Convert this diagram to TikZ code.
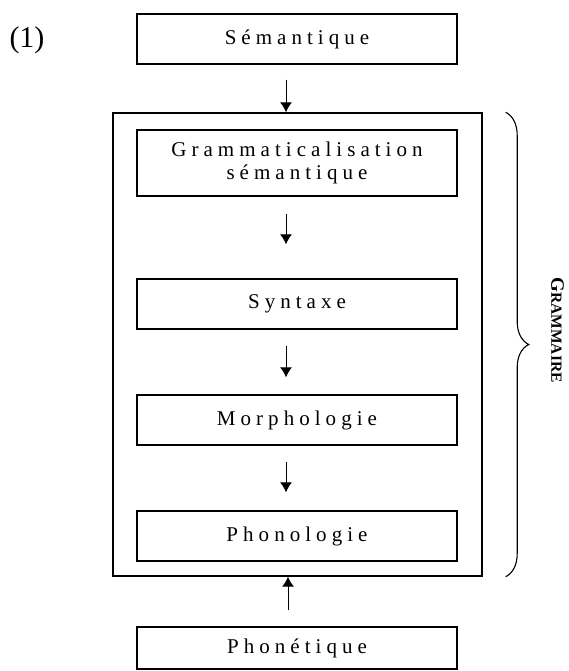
\documentclass[tikz,border=0pt]{standalone}
\usepackage{fontspec}
\setmainfont{Liberation Serif}
\newfontfamily\spaced[LetterSpace=24]{Liberation Serif}
\usepackage{tikz}
\usetikzlibrary{arrows.meta}
\usetikzlibrary{positioning}
\usetikzlibrary{decorations.pathreplacing}
\tikzset{
    module/.style={draw=black, line width=1.4pt, minimum width=320pt, minimum height=50pt,
        inner sep=0pt, align=center, font=\spaced\fontsize{21}{23}\selectfont},
    grammarbox/.style={draw=black, line width=1.4pt, inner sep=0pt},
    flow/.style={draw=black, line width=1pt, -{Latex[length=10pt,width=12pt]}},
    accolade/.style={decorate, draw=black, line width=1.1pt,
        decoration={brace,amplitude=23pt}},
}

\begin{document}
\begin{tikzpicture}[x=1pt, y=-1pt]
	\useasboundingbox (0,0) rectangle (568,671);
	\coordinate (down) at (286,0);
	\coordinate (up) at (288,0);
	\node[grammarbox, minimum width=369pt, minimum height=463pt] (grammaire) at (297.5,344.5) {};
	\node[module] (sem) at (297,39) {Sémantique};
	\node[module, minimum height=66pt] (gramsem) at (297,163) {Grammaticalisation\\sémantique};
	\node[module] (syntaxe) at (297,304) {Syntaxe};
	\node[module] (morpho) at (297,420) {Morphologie};
	\node[module] (phonol) at (297,536) {Phonologie};
	\node[module, minimum height=42pt] (phonet) at (297,648) {Phonétique};
	\node (num) at (27,40) {\fontsize{30}{30}\selectfont (1)};
	\draw[flow, shorten <=15pt] (sem.south -| down) -- (grammaire.north -| down);
	\draw[flow, shorten <=17pt, shorten >=34pt] (gramsem.south -| down) -- (syntaxe.north -| down);
	\draw[flow, shorten <=16pt, shorten >=17pt] (syntaxe.south -| down) -- (morpho.north -| down);
	\draw[flow, shorten <=16pt, shorten >=18pt] (morpho.south -| down) -- (phonol.north -| down);
	\draw[flow, shorten <=16pt] (phonet.north -| up) -- (grammaire.south -| up);
	\draw[accolade] ([xshift=23pt]grammaire.north east) -- ([xshift=23pt]grammaire.south east);
	\node[rotate=-90, inner sep=0pt] (label) at (557.5,330) {\bfseries{\fontsize{19}{19}\selectfont G}\fontsize{15.5}{15.5}\selectfont RAMMAIRE};
\end{tikzpicture}
\end{document}
